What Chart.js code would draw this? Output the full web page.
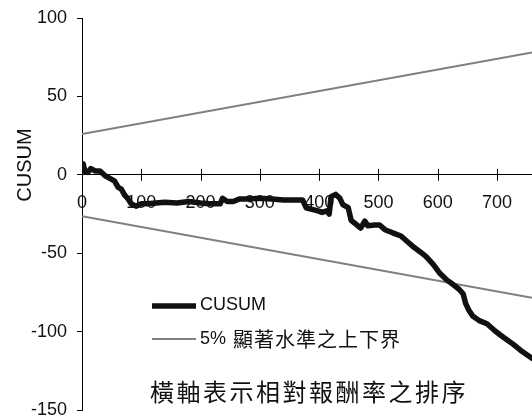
<!DOCTYPE html>
<html lang="zh-Hant">
<head>
    <meta charset="UTF-8">
    <title>CUSUM</title>
    <script src="https://cdn.jsdelivr.net/npm/chart.js@4"></script>
    <style>
        body {
            margin: 0;
            padding: 0;
            background: #fff;
        }
        canvas {
            display: block;
        }
    </style>
</head>
<body>
    <canvas id="cusumChart" width="532" height="419"></canvas>

    <script>
        // ---------- 資料 ----------
        const cusumX = [0, 2, 5, 10, 15, 22, 30, 39, 47, 55, 61, 66, 72, 77, 83, 91, 100, 110, 125, 140,
            160, 180, 200, 215, 233, 237, 245, 255, 265, 280, 300, 320, 340, 360, 372, 378, 388, 398, 405, 413,
            417, 420, 428, 435, 440, 449, 454, 462, 470, 477, 482, 494, 502, 511, 524, 538, 550, 561, 570, 580,
            592, 604, 615, 626, 636, 643, 647, 652, 659, 670, 683, 695, 705, 716, 727, 740, 759];
        const cusumY = [5, 7, 2, 1.5, 4, 2.5, 2.5, -0.6, -2.3, -4, -8, -9, -13, -15, -18.5, -20, -18.5, -18.5, -18, -17.5,
            -18, -17, -18, -18.5, -18.5, -15, -17, -17, -15.5, -15.5, -15, -15.5, -16, -16, -16, -21, -22, -23, -24, -23,
            -25, -14, -12.5, -15, -19, -21, -29, -31.5, -34, -29.5, -32.5, -32, -32, -35, -37, -39, -43, -46.6, -49, -52,
            -57, -63, -67, -70, -73, -76, -82, -86, -90, -93, -95, -99, -102, -105, -108, -112, -117];

        // 5% 顯著水準之上下界
        const boundX = [0, 759];
        const upperBound = [26, 78];
        const lowerBound = [-26.5, -78.5];

        const xRange = [0, 759];
        const yRange = [-150, 100];

        const LATIN = 'Arial, "Liberation Sans", sans-serif';
        const CJK = '"Noto Sans CJK TC", "Noto Sans CJK SC", sans-serif';
        const TEXT = '#111';

        function toPoints(xs, ys) {
            return xs.map((x, i) => ({ x: x, y: ys[i] }));
        }

        // ---------- 自訂繪製：刻度、軸標題、圖例、說明文字 ----------
        const extras = {
            id: 'extras',
            afterDraw(chart) {
                const ctx = chart.ctx;
                const xs = chart.scales.x;
                const ys = chart.scales.y;
                const area = chart.chartArea;
                const y0 = ys.getPixelForValue(0);

                ctx.save();

                // x 軸刻度（穿過軸線）
                ctx.strokeStyle = '#000';
                ctx.lineWidth = 1;
                xs.ticks.forEach(t => {
                    const px = Math.round(xs.getPixelForValue(t.value)) + 0.5;
                    ctx.beginPath();
                    ctx.moveTo(px, y0 - 6);
                    ctx.lineTo(px, y0 + 6);
                    ctx.stroke();
                });

                // y 軸標題
                ctx.fillStyle = TEXT;
                ctx.save();
                ctx.translate(25, 165);
                ctx.rotate(-Math.PI / 2);
                ctx.font = '20px ' + LATIN;
                ctx.textAlign = 'center';
                ctx.textBaseline = 'middle';
                ctx.fillText('CUSUM', 0, 0);
                ctx.restore();

                // 圖例
                const ds = chart.data.datasets;
                const lx = area.left + 70;
                const rows = [
                    { d: ds[0], y: area.top + 288 },
                    { d: ds[1], y: area.top + 321 }
                ];
                rows.forEach(r => {
                    ctx.strokeStyle = r.d.borderColor;
                    ctx.lineWidth = r.d.borderWidth;
                    ctx.beginPath();
                    ctx.moveTo(lx, r.y);
                    ctx.lineTo(lx + 44, r.y);
                    ctx.stroke();
                });
                ctx.textBaseline = 'middle';
                ctx.textAlign = 'left';
                ctx.font = '18px ' + LATIN;
                ctx.fillText(ds[0].label, lx + 48, rows[0].y - 1);
                const parts = ds[1].label.split(' ');
                ctx.fillText(parts[0], lx + 48, rows[1].y);
                ctx.font = '20px ' + CJK;
                ctx.letterSpacing = '1px';
                ctx.fillText(parts[1], lx + 81, rows[1].y);

                // 說明文字
                ctx.font = '24px ' + CJK;
                ctx.letterSpacing = '2.5px';
                ctx.fillText('橫軸表示相對報酬率之排序', area.left + 68, area.top + 374);

                ctx.restore();
            }
        };

        new Chart(document.getElementById('cusumChart'), {
            type: 'line',
            data: {
                datasets: [{
                    label: 'CUSUM',
                    data: toPoints(cusumX, cusumY),
                    borderColor: '#111',
                    borderWidth: 5.5,
                    borderJoinStyle: 'round',
                    borderCapStyle: 'round',
                    pointRadius: 0,
                    tension: 0
                }, {
                    label: '5% 顯著水準之上下界',
                    data: toPoints(boundX, upperBound),
                    borderColor: '#808080',
                    borderWidth: 2,
                    pointRadius: 0
                }, {
                    label: 'lower',
                    data: toPoints(boundX, lowerBound),
                    borderColor: '#808080',
                    borderWidth: 2,
                    pointRadius: 0
                }]
            },
            options: {
                responsive: false,
                animation: false,
                layout: {
                    padding: { top: 18, bottom: 9, left: 0, right: 0 }
                },
                plugins: {
                    legend: { display: false },
                    tooltip: { enabled: false }
                },
                scales: {
                    x: {
                        type: 'linear',
                        position: { y: 0 },
                        min: xRange[0],
                        max: xRange[1],
                        afterFit: s => { s.height = 0; },
                        grid: { drawOnChartArea: false, drawTicks: false },
                        border: { color: '#000', width: 1 },
                        ticks: {
                            stepSize: 100,
                            includeBounds: false,
                            autoSkip: false,
                            maxRotation: 0,
                            padding: 17,
                            color: TEXT,
                            font: { family: LATIN, size: 18 }
                        }
                    },
                    y: {
                        min: yRange[0],
                        max: yRange[1],
                        afterFit: s => {
                            s.width = 82;
                            s.paddingTop = 0;
                            s.paddingBottom = 0;
                        },
                        grid: { drawOnChartArea: false, drawTicks: true, tickLength: 5, color: '#000' },
                        border: { color: '#000', width: 1 },
                        ticks: {
                            stepSize: 50,
                            padding: 10,
                            color: TEXT,
                            font: { family: LATIN, size: 18 }
                        }
                    }
                }
            },
            plugins: [extras]
        });
    </script>
</body>
</html>
